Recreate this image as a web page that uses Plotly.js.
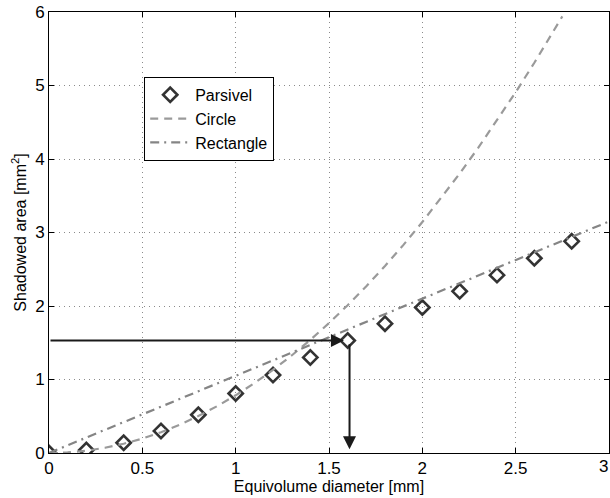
<!DOCTYPE html>
<html><head><meta charset="utf-8">
<script src="https://cdn.plot.ly/plotly-3.0.1.min.js"></script>
<style>body{margin:0;background:#fff}#c{width:610px;height:498px}</style>
</head><body><div id="c"></div>
<script>
const parsivelX = [0,0.2,0.4,0.6,0.8,1.0,1.2,1.4,1.6,1.8,2.0,2.2,2.4,2.6,2.8];
const parsivelY = [0,0.04,0.14,0.30,0.52,0.81,1.06,1.30,1.53,1.76,1.98,2.20,2.42,2.65,2.88];
const circleX = [0,0.1,0.2,0.3,0.4,0.5,0.6,0.7,0.8,0.9,1.0,1.1,1.2,1.3,1.4,1.5,1.6,1.7,1.8,1.9,2.0,2.1,2.2,2.3,2.4,2.5,2.6,2.7,2.75];
const circleY = [0,0.008,0.031,0.071,0.126,0.196,0.283,0.385,0.503,0.636,0.785,0.950,1.131,1.327,1.539,1.767,2.011,2.270,2.545,2.835,3.142,3.464,3.801,4.155,4.524,4.909,5.309,5.726,5.94];
const rectX = [0,3];
const rectY = [0,3.15];
const readX = 1.61;   // arrow reading diameter
const readY = 1.53;   // arrow reading area
const xTicks = [0,0.5,1,1.5,2,2.5];
const xTickText = ['0','0.5','1','1.5','2','2.5'];
const xLastTick = 3;
const yTicks = [0,1,2,3,4,5,6];

const FONT = 'Liberation Sans, Arial, sans-serif';

const traces = [
  {x: parsivelX, y: parsivelY, name: 'Parsivel', mode: 'markers', type: 'scatter',
   marker: {symbol: 'diamond-open', size: 11, color: '#333', line: {width: 2.6, color: '#333'}}},
  {x: circleX, y: circleY, name: 'Circle', mode: 'lines', type: 'scatter',
   line: {color: '#9a9a9a', width: 2.2, dash: '8px,6px'}},
  {x: rectX, y: rectY, name: 'Rectangle', mode: 'lines', type: 'scatter',
   line: {color: '#858585', width: 2.2, dash: '9px,5px,2px,5px'}}
];

const axisCommon = {
  showline: true, mirror: 'ticks', linecolor: '#000', linewidth: 1,
  ticks: 'inside', ticklen: 5, tickcolor: '#000',
  showgrid: true, gridcolor: '#8a8a8a', griddash: '1px,4px', gridwidth: 1,
  zeroline: false, tickfont: {family: FONT, size: 17, color: '#000'}
};

const layout = {
  width: 610, height: 498,
  margin: {l: 49, r: 1, t: 12, b: 45},
  paper_bgcolor: '#fff', plot_bgcolor: '#fff',
  showlegend: true,
  legend: {x: 0.17, y: 0.853, xanchor: 'left', yanchor: 'top',
    bgcolor: '#fff', bordercolor: '#000', borderwidth: 1,
    font: {family: FONT, size: 16, color: '#000'},
    tracegroupgap: 0, itemwidth: 40},
  xaxis: Object.assign({}, axisCommon, {range: [0, 3], tickvals: xTicks.concat([xLastTick]), ticktext: xTickText.concat(['']),
    title: {text: 'Equivolume diameter [mm]', standoff: 2,
      font: {family: FONT, size: 16, color: '#000'}}}),
  yaxis: Object.assign({}, axisCommon, {range: [0, 6], tickvals: yTicks,
    title: {text: 'Shadowed area [mm<sup>2</sup>]', standoff: 4,
      font: {family: FONT, size: 16, color: '#000'}}}),
  annotations: [
    {x: xLastTick, y: 0, xref: 'x', yref: 'paper', xanchor: 'right', yanchor: 'top', yshift: -2, xshift: 1,
     showarrow: false, text: String(xLastTick), font: {family: FONT, size: 17, color: '#000'}},
    {x: readX - 0.03, y: readY, ax: 0, ay: readY, xref: 'x', yref: 'y', axref: 'x', ayref: 'y',
     showarrow: true, arrowhead: 2, arrowsize: 1.3, arrowwidth: 2, arrowcolor: '#1a1a1a', text: ''},
    {x: readX, y: 0.05, ax: readX, ay: readY - 0.03, xref: 'x', yref: 'y', axref: 'x', ayref: 'y',
     showarrow: true, arrowhead: 2, arrowsize: 1.3, arrowwidth: 2, arrowcolor: '#1a1a1a', text: ''}
  ]
};

Plotly.newPlot('c', traces, layout, {displayModeBar: false, staticPlot: true});
</script></body></html>
